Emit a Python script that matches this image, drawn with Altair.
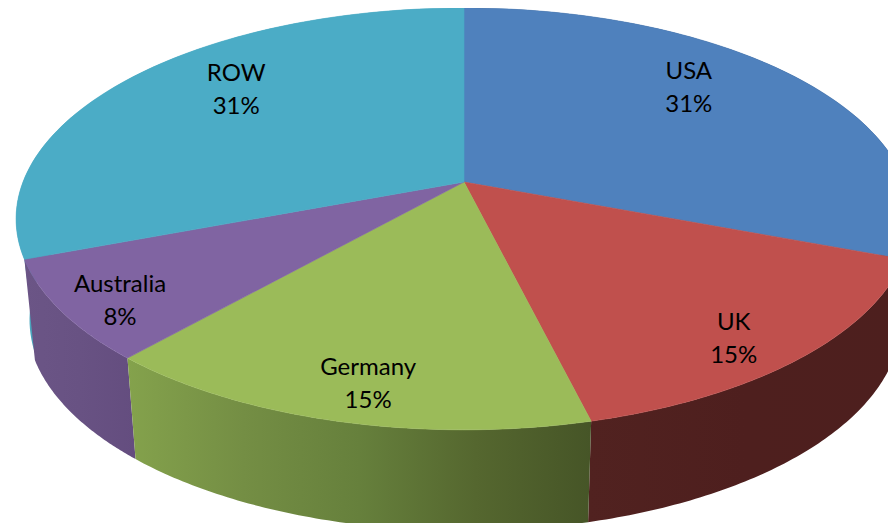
import math
import altair as alt
import pandas as pd

# Data
categories = ["USA", "UK", "Germany", "Australia", "ROW"]
shares = [4, 2, 2, 1, 4]
percent_labels = ["31%", "15%", "15%", "8%", "31%"]
top_colors = ["#4f81bd", "#c0504d", "#9bbb59", "#8064a2", "#4bacc6"]

# Style: side-wall shading per slice (left to right)
wall_stops = {
    "USA": ["#2c4a70", "#22395a"],
    "UK": ["#512220", "#4e1f1e", "#4d1f1e"],
    "Germany": ["#84a24c", "#748e44", "#66803c", "#55672f", "#465527"],
    "Australia": ["#6b5586", "#685283", "#644d7f"],
    "ROW": ["#4aa5bd", "#4aa0b8"],
}

# Perspective pie geometry (page pixels)
CX, CY = 464.0, 182.0
SX, SY, C = 441.0, 172.6, -0.175
DEPTH = 101.0
wall_shrink = {"USA": 0.976, "UK": 0.976, "Germany": 0.976, "Australia": 0.976, "ROW": 0.97}


def project(radius, angle):
    u = radius * math.sin(angle)
    v = -radius * math.cos(angle)
    den = 1 + C * v
    return CX + SX * u / den, (SY * v + CY) / den


def lower(pt, shrink):
    return CX + shrink * (pt[0] - CX), pt[1] + DEPTH


total = sum(shares)
edges = [0.0]
for s in shares:
    edges.append(edges[-1] + s / total * 2 * math.pi)


def arc(a0, a1, n=80):
    return [project(1, a0 + (a1 - a0) * i / n) for i in range(n + 1)]


def feature(points):
    ring = [list(p) for p in points] + [list(points[0])]
    return {"type": "Feature", "properties": {},
            "geometry": {"type": "Polygon", "coordinates": [ring]}}


projection = alt.Projection(type="identity", scale=1, translate=[-8, -8])
layers = []

# walls, back to front
for i in [4, 0, 3, 1, 2]:
    name = categories[i]
    top_arc = arc(edges[i], edges[i + 1])
    bottom_arc = [lower(p, wall_shrink[name]) for p in reversed(top_arc)]
    stops = wall_stops[name]
    grad = alt.Gradient(
        gradient="linear", x1=0, x2=1, y1=0, y2=0,
        stops=[alt.GradientStop(offset=k / (len(stops) - 1), color=c)
               for k, c in enumerate(stops)],
    )
    layers.append(
        alt.Chart(alt.InlineData(values=[feature(top_arc + bottom_arc)]))
        .mark_geoshape(fill=grad, stroke=None)
    )

# top faces
for i in range(len(categories)):
    points = [(CX, CY)] + arc(edges[i], edges[i + 1])
    layers.append(
        alt.Chart(alt.InlineData(values=[feature(points)]))
        .mark_geoshape(fill=top_colors[i], stroke=top_colors[i], strokeWidth=0.6)
    )

# labels placed along each slice's mid direction (first line's centre)
label_place = {
    "USA": (0.66, 0, -38.5),
    "UK": (0.85, -10, -5.5),
    "Germany": (0.85, 9, -11.5),
    "Australia": (0.85, -7, -4.5),
    "ROW": (0.66, -3, -36.5),
}
rows = []
for i, name in enumerate(categories):
    r, dx, dy = label_place[name]
    x, y = project(r, (edges[i] + edges[i + 1]) / 2)
    rows.append({"lon": x + dx, "lat": y + dy, "text": f"{name}\n{percent_labels[i]}"})

text = (
    alt.Chart(pd.DataFrame(rows))
    .mark_text(font="Lato", fontSize=24, color="#000000", lineBreak="\n",
               lineHeight=33, align="center", baseline="middle")
    .encode(longitude="lon:Q", latitude="lat:Q", text="text:N")
)
layers.append(text)

chart = (
    alt.layer(*layers, projection=projection)
    .properties(width=880, height=515, padding=0, autosize=alt.AutoSizeParams(type="none"),
                background="#ffffff")
    .configure_view(stroke=None)
)

chart.save("out.html", embed_options={"renderer": "svg", "actions": False})
